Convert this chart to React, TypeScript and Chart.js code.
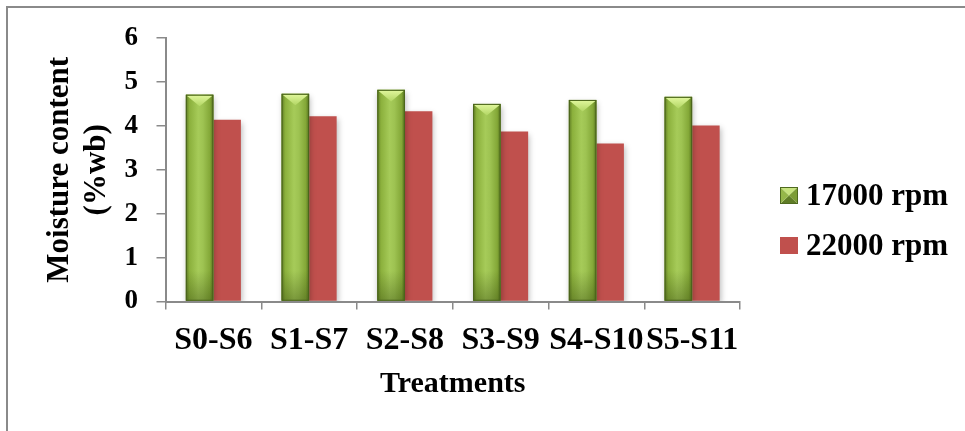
import React, { useEffect, useRef } from "react";
import { Chart, registerables } from "chart.js";

Chart.register(...registerables);

// Moisture content (% wet basis) per treatment pair, at the two rotor speeds
const treatments = ["S0-S6", "S1-S7", "S2-S8", "S3-S9", "S4-S10", "S5-S11"];
const moisture17000 = [4.71, 4.73, 4.82, 4.5, 4.59, 4.66];
const moisture22000 = [4.14, 4.22, 4.33, 3.87, 3.6, 4.01];
const seriesNames = ["17000 rpm", "22000 rpm"];
const yAxisTitle = ["Moisture content", "(%wb)"];
const xAxisTitle = "Treatments";
const yMin = 0;
const yMax = 6;
const yStep = 1;

const SERIF = "'Liberation Serif', 'Times New Roman', serif";
const AXIS_GREY = "#8a8a8a";
const RED = "#c0504d";
const GREEN = "#94ba48";

// Paints the bevelled green columns and a soft drop shadow under all bars
const bevelPlugin = {
  id: "bevel",
  beforeDatasetsDraw(chart: any) {
    const ctx = chart.ctx;
    ctx.save();
    ctx.shadowColor = "rgba(0,0,0,0.28)";
    ctx.shadowBlur = 6;
    ctx.shadowOffsetX = 1;
    ctx.shadowOffsetY = 3;
  },
  afterDatasetsDraw(chart: any) {
    const ctx = chart.ctx;
    ctx.restore();
    const meta = chart.getDatasetMeta(0);
    meta.data.forEach((bar: any) => {
      const { x, y, width, base } = bar.getProps(["x", "y", "width", "base"], true);
      const left = x - width / 2;
      const right = x + width / 2;
      const top = Math.min(y, base);
      const bottom = Math.max(y, base);
      const h = bottom - top;
      ctx.save();
      const g = ctx.createLinearGradient(left, 0, right, 0);
      g.addColorStop(0, "#5d7a22");
      g.addColorStop(0.13, "#8bb03c");
      g.addColorStop(0.45, "#a6cb59");
      g.addColorStop(0.62, "#9ec352");
      g.addColorStop(0.88, "#83a737");
      g.addColorStop(1, "#53701c");
      ctx.fillStyle = g;
      ctx.fillRect(left, top, width, h);

      const shade = Math.min(30, h / 2);
      const gv = ctx.createLinearGradient(0, bottom - shade, 0, bottom);
      gv.addColorStop(0, "rgba(55,75,15,0)");
      gv.addColorStop(1, "rgba(55,75,15,0.4)");
      ctx.fillStyle = gv;
      ctx.fillRect(left, bottom - shade, width, shade);

      const d = Math.min(width * 0.42, h / 2);
      const gt = ctx.createLinearGradient(0, top, 0, top + d);
      gt.addColorStop(0, "#e2f89e");
      gt.addColorStop(1, "#b2d664");
      ctx.fillStyle = gt;
      ctx.beginPath();
      ctx.moveTo(left + 1, top + 1);
      ctx.lineTo(right - 1, top + 1);
      ctx.lineTo(x, top + d);
      ctx.closePath();
      ctx.fill();

      ctx.strokeStyle = "#4a631c";
      ctx.lineWidth = 1;
      ctx.strokeRect(left + 0.5, top + 0.5, width - 1, h - 1);
      ctx.restore();
    });
  },
};

// Legend to the right of the plot, one row per series
const sideLegendPlugin = {
  id: "sideLegend",
  afterDraw(chart: any) {
    const { ctx, chartArea } = chart;
    const datasets = chart.data.datasets;
    const n = datasets.length;
    const boxW = 18;
    const boxH = 17;
    const rowGap = 50;
    const x0 = chartArea.right + 40;
    const cy = chart.height / 2 + 6;
    ctx.save();
    ctx.font = `bold 31px ${SERIF}`;
    ctx.textBaseline = "middle";
    ctx.textAlign = "left";
    datasets.forEach((ds: any, i: number) => {
      const yc = cy + (i - (n - 1) / 2) * rowGap;
      const bx = x0;
      const by = yc - boxH / 2 - 1;
      if (i === 0) {
        const cx = bx + boxW / 2;
        const cyy = by + boxH / 2;
        const facets: [number, number, number, number, string][] = [
          [bx, by, bx + boxW, by, "#c7e37e"],
          [bx + boxW, by, bx + boxW, by + boxH, "#7c9c36"],
          [bx + boxW, by + boxH, bx, by + boxH, "#5f7c26"],
          [bx, by + boxH, bx, by, "#95b749"],
        ];
        facets.forEach(([ax, ay, bx2, by2, col]) => {
          ctx.fillStyle = col;
          ctx.beginPath();
          ctx.moveTo(ax, ay);
          ctx.lineTo(bx2, by2);
          ctx.lineTo(cx, cyy);
          ctx.closePath();
          ctx.fill();
        });
        ctx.strokeStyle = "#4f6a1f";
        ctx.lineWidth = 1;
        ctx.strokeRect(bx + 0.5, by + 0.5, boxW - 1, boxH - 1);
      } else {
        ctx.fillStyle = ds.backgroundColor;
        ctx.fillRect(bx, by, boxW, boxH);
      }
      ctx.fillStyle = "#000";
      ctx.fillText(ds.label, bx + boxW + 8, yc);
    });
    ctx.restore();
  },
};

export default function App() {
  const canvasRef = useRef<HTMLCanvasElement | null>(null);

  useEffect(() => {
    if (!canvasRef.current) return;
    const chart = new Chart(canvasRef.current, {
      type: "bar",
      data: {
        labels: treatments,
        datasets: [
          {
            label: seriesNames[0],
            data: moisture17000,
            backgroundColor: GREEN,
            borderWidth: 0,
            categoryPercentage: 0.575,
            barPercentage: 1,
          },
          {
            label: seriesNames[1],
            data: moisture22000,
            backgroundColor: RED,
            borderWidth: 0,
            categoryPercentage: 0.575,
            barPercentage: 1,
          },
        ],
      },
      options: {
        responsive: false,
        animation: false,
        events: [],
        layout: { padding: { left: 0, top: 38, right: 225, bottom: 0 } },
        plugins: {
          legend: { display: false },
          tooltip: { enabled: false },
        },
        scales: {
          x: {
            afterFit: (scale: any) => {
              scale.height = 129.5;
            },
            grid: {
              display: true,
              drawOnChartArea: false,
              drawTicks: true,
              tickLength: 8,
              color: AXIS_GREY,
              lineWidth: 1.5,
            },
            border: { display: true, color: AXIS_GREY, width: 2, z: 1 },
            ticks: {
              autoSkip: false,
              maxRotation: 0,
              minRotation: 0,
              padding: 12,
              color: "#000",
              font: { family: SERIF, size: 32, weight: "bold" },
            },
            title: {
              display: true,
              text: xAxisTitle,
              color: "#000",
              font: { family: SERIF, size: 30, weight: "bold", lineHeight: 1.2 },
              padding: { top: 0, bottom: 29 },
            },
          },
          y: {
            min: yMin,
            max: yMax,
            afterFit: (scale: any) => {
              scale.width = 165.5;
            },
            grid: {
              display: true,
              drawOnChartArea: false,
              drawTicks: true,
              tickLength: 9,
              color: AXIS_GREY,
              lineWidth: 1.5,
            },
            border: { display: true, color: AXIS_GREY, width: 2 },
            ticks: {
              stepSize: yStep,
              padding: 18.5,
              color: "#000",
              font: { family: SERIF, size: 27, weight: "bold" },
            },
            title: {
              display: true,
              text: yAxisTitle,
              color: "#000",
              font: { family: SERIF, size: 31, weight: "bold", lineHeight: 1.2 },
              padding: { top: 41.4, bottom: 0 },
            },
          },
        },
      },
      plugins: [bevelPlugin, sideLegendPlugin],
    } as any);
    return () => chart.destroy();
  }, []);

  return (
    <div
      style={{
        position: "fixed",
        left: 0,
        top: 0,
        width: 965,
        height: 431,
        overflow: "hidden",
        background: "#fff",
      }}
    >
      <div
        style={{
          position: "absolute",
          left: 6,
          top: 6,
          width: 1000,
          height: 500,
          border: `2px solid ${AXIS_GREY}`,
          boxSizing: "border-box",
        }}
      />
      <canvas
        ref={canvasRef}
        width={965}
        height={431}
        style={{ position: "absolute", left: 0, top: 0, width: 965, height: 431 }}
      />
    </div>
  );
}
